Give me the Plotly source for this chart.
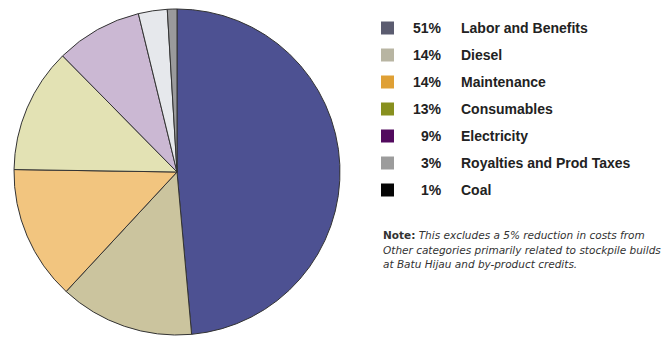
import plotly.graph_objects as go

categories = ["Labor and Benefits", "Diesel", "Maintenance", "Consumables",
              "Electricity", "Royalties and Prod Taxes", "Coal"]
values = [51, 14, 14, 13, 9, 3, 1]
slice_colors = ["#4d5192", "#cbc49e", "#f2c57f", "#e3e2b4", "#cbb8d3", "#e6e8ec", "#9a9a9c"]
legend_colors = ["#5b5c70", "#b8b5a2", "#dfa035", "#88901f", "#520a5e", "#9c9c9c", "#050505"]
note_bold = "Note:"
note_lines = ["This excludes a 5% reduction in costs from",
              "Other categories primarily related to stockpile builds",
              "at Batu Hijau and by-product credits."]

W, H = 664, 339
fig = go.Figure()
fig.add_trace(go.Pie(
    labels=categories, values=values, sort=False, direction="clockwise",
    rotation=0, marker=dict(colors=slice_colors, line=dict(color="#333333", width=1)),
    textinfo="none", hoverinfo="none", showlegend=False,
    domain=dict(x=[14 / W, 340 / W], y=[4 / H, 330 / H]),
))

shapes = []
annotations = []
row0, step = 28, 27
font = "Liberation Sans"
for i, (cat, v, c) in enumerate(zip(categories, values, legend_colors)):
    yc = row0 + i * step
    shapes.append(dict(type="rect", xref="paper", yref="paper",
                       x0=381 / W, x1=394 / W, y0=1 - (yc + 6.5) / H, y1=1 - (yc - 6.5) / H,
                       fillcolor=c, line=dict(width=0)))
    annotations.append(dict(xref="paper", yref="paper", x=444 / W, y=1 - yc / H,
                            xanchor="right", yanchor="middle", showarrow=False,
                            text=f"<b>{v}%</b>", font=dict(family=font, size=14, color="#222")))
    annotations.append(dict(xref="paper", yref="paper", x=459 / W, y=1 - yc / H,
                            xanchor="left", yanchor="middle", showarrow=False,
                            text=f"<b>{cat}</b>", font=dict(family=font, size=14, color="#222")))

note_y = [235, 250, 264]
for j, line in enumerate(note_lines):
    txt = f"<b>{note_bold}</b> <i>{line}</i>" if j == 0 else f"<i>{line}</i>"
    annotations.append(dict(xref="paper", yref="paper", x=381 / W, y=1 - note_y[j] / H,
                            xanchor="left", yanchor="middle", showarrow=False,
                            text=txt, font=dict(family="DejaVu Sans", size=10.5, color="#333")))

fig.update_layout(width=W, height=H, margin=dict(l=0, r=0, t=0, b=0),
                  paper_bgcolor="white", plot_bgcolor="white",
                  shapes=shapes, annotations=annotations)
fig.write_html("out.html")
